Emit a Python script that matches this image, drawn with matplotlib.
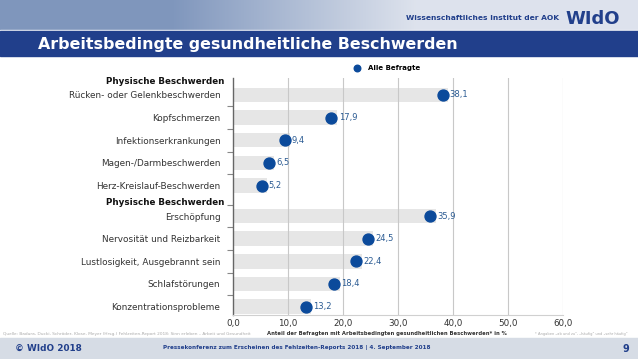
import numpy as np
import matplotlib.pyplot as plt
from matplotlib.patches import Rectangle

# data
categories = ["Rücken- oder Gelenkbeschwerden", "Kopfschmerzen", "Infektionserkrankungen",
              "Magen-/Darmbeschwerden", "Herz-Kreislauf-Beschwerden",
              "Erschöpfung", "Nervosität und Reizbarkeit", "Lustlosigkeit, Ausgebrannt sein",
              "Schlafstörungen", "Konzentrationsprobleme"]
values = [38.1, 17.9, 9.4, 6.5, 5.2, 35.9, 24.5, 22.4, 18.4, 13.2]
group_labels = ["Physische Beschwerden", "Physische Beschwerden"]
group_start = [0, 5]
xticks = [0, 10, 20, 30, 40, 50, 60]

BLUE = "#0b4a9b"
DARK = "#213f8b"
TXT = "#333333"

fig = plt.figure(figsize=(6.38, 3.59), dpi=100)

# slide decoration, pixel coordinates
bg = fig.add_axes([0, 0, 1, 1], zorder=0)
bg.set_xlim(0, 638)
bg.set_ylim(359, 0)
bg.axis("off")
grad = np.linspace(0, 1, 256)
c1 = np.array([0.50, 0.59, 0.74])
c2 = np.array([0.87, 0.89, 0.93])
w = np.clip(grad * 2.6 - 0.7, 0, 1)[None, :, None]
img = c1 * (1 - w) + c2 * w
bg.imshow(np.repeat(img, 2, axis=0), extent=(0, 638, 31, 0), aspect="auto")
bg.add_patch(Rectangle((0, 29.5), 638, 1.5, color="#f2f4f8"))
bg.add_patch(Rectangle((0, 31), 638, 25, color=DARK))
bg.text(38, 44, "Arbeitsbedingte gesundheitliche Beschwerden", color="white",
        fontsize=11.4, fontweight="bold", va="center", ha="left")
bg.text(559, 18.5, "Wissenschaftliches Institut der AOK", color=DARK,
        fontsize=5.4, fontweight="bold", va="center", ha="right")
bg.text(565, 18.5, "WIdO", color=DARK, fontsize=13, fontweight="heavy",
        va="center", ha="left")
bg.add_patch(Rectangle((0, 338), 638, 21, color="#d6dce5"))
bg.text(15, 348.5, "© WIdO 2018", color=DARK, fontsize=6.4, fontweight="bold", va="center")
bg.text(297, 347, "Pressekonferenz zum Erscheinen des Fehlzeiten-Reports 2018 | 4. September 2018",
        color=DARK, fontsize=4.1, fontweight="bold", va="center", ha="center")
bg.text(629, 348.5, "9", color=DARK, fontsize=7, fontweight="bold", va="center", ha="right")
bg.text(3, 334, "Quelle: Badura, Ducki, Schröder, Klose, Meyer (Hrsg.) Fehlzeiten-Report 2018: "
        "Sinn erleben – Arbeit und Gesundheit", color="#aaaaaa", fontsize=3.1, va="center")
bg.text(628, 334, "* Angaben „ab und zu“, „häufig“ und „sehr häufig“", color="#aaaaaa",
        fontsize=2.6, va="center", ha="right")

# chart
ax = fig.add_axes([233 / 638, 1 - 315 / 359, 330 / 638, 237 / 359], zorder=1)
ax.patch.set_alpha(0)
pos = np.arange(len(values), dtype=float)
pos[5:] += 0.35
vals = np.array(values)

ax.barh(pos, vals + 1.0, height=0.64, color="#e6e6e6", zorder=1)
for xt in xticks[1:]:
    ax.axvline(xt, color="#c8c8c8", lw=0.8, zorder=1.5)
ax.scatter(vals, pos, s=62, color=BLUE, zorder=3, label="Alle Befragte")
for v, p in zip(vals, pos):
    ax.text(v + 1.3, p, f"{v:.1f}".replace(".", ","), color="#2b5b93",
            fontsize=6, va="center", ha="left", zorder=4)

ax.set_xlim(0, 60)
ax.set_ylim(pos[-1] + 0.37, -0.75)
ax.set_xticks(xticks)
ax.set_xticklabels([f"{t:.1f}".replace(".", ",") for t in xticks], fontsize=6.3, color=TXT)
ax.set_yticks(pos)
ax.set_yticklabels(categories, fontsize=6.4, color=TXT)
ax.set_yticks(pos[1:] - 0.5, minor=True)
ax.tick_params(axis="y", which="major", length=0, pad=9)
ax.tick_params(axis="y", which="minor", length=4, color="#888888", width=0.8)
ax.tick_params(axis="x", length=0, pad=3)
for i, g in zip(group_start, group_labels):
    ax.text(-0.027, pos[i] - 0.6, g, transform=ax.get_yaxis_transform(),
            fontsize=6.3, fontweight="bold", color="#111111", ha="right", va="center")

for s in ["top", "right"]:
    ax.spines[s].set_visible(False)
ax.spines["left"].set_color("#666666")
ax.spines["left"].set_linewidth(1.0)
ax.spines["bottom"].set_color("#d0d0d0")
ax.set_xlabel("Anteil der Befragten mit Arbeitsbedingten gesundheitlichen Beschwerden* in %",
              fontsize=3.8, fontweight="bold", color=TXT)
ax.xaxis.set_label_coords(0.467, -0.066)

leg = ax.legend(loc="lower center", bbox_to_anchor=(0.46, 1.0), frameon=False,
                fontsize=5.0, markerscale=0.6, handletextpad=0.6, borderaxespad=0.6)
for t in leg.get_texts():
    t.set_fontweight("bold")

fig.savefig("out.png", dpi=100)
